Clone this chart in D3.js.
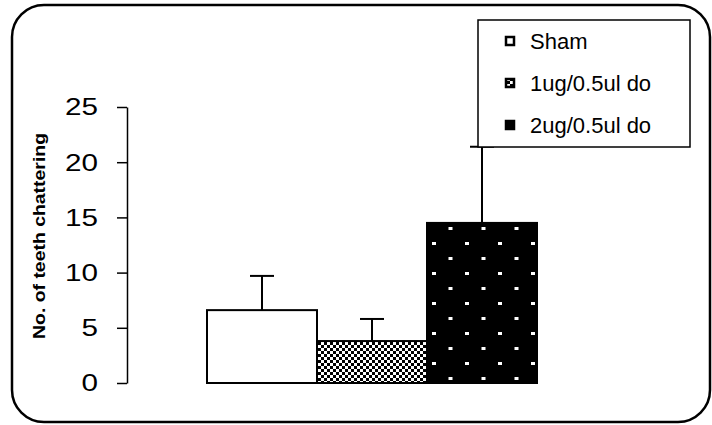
<!DOCTYPE html>
<html><head><meta charset="utf-8">
<script src="https://cdn.jsdelivr.net/npm/d3@7"></script>
<style>body{margin:0;background:#fff}svg{display:block}text{font-family:"Liberation Sans",Arial,sans-serif}</style>
</head><body>
<svg id="c" width="712" height="425"></svg>
<script>
const categories = ["Sham", "1ug/0.5ul do", "2ug/0.5ul do"];
const means = [6.6, 3.8, 14.5];
const errors = [3.1, 2.0, 6.9];
const yTicks = [0, 5, 10, 15, 20, 25];
const yTitle = "No. of teeth chattering";

const svg = d3.select("#c");
const defs = svg.append("defs");

// checker pattern
const chk = defs.append("pattern").attr("id","chk").attr("patternUnits","userSpaceOnUse")
  .attr("width",6).attr("height",6);
chk.append("rect").attr("width",6).attr("height",6).attr("fill","#fff");
chk.append("rect").attr("width",3).attr("height",3).attr("fill","#000");
chk.append("rect").attr("x",3).attr("y",3).attr("width",3).attr("height",3).attr("fill","#000");

// dotted black pattern
const dot = defs.append("pattern").attr("id","dot").attr("patternUnits","userSpaceOnUse")
  .attr("width",33).attr("height",30).attr("x",0).attr("y",0);
dot.append("rect").attr("width",33).attr("height",30).attr("fill","#000");
dot.append("rect").attr("x",3).attr("y",2).attr("width",4).attr("height",3).attr("fill","#fff");
dot.append("rect").attr("x",19.5).attr("y",17).attr("width",4).attr("height",3).attr("fill","#fff");

const fills = ["#fff", "url(#chk)", "url(#dot)"];

// outer border
svg.append("rect").attr("x",12).attr("y",5).attr("width",698).attr("height",417)
  .attr("rx",32).attr("ry",32).attr("fill","none").attr("stroke","#000").attr("stroke-width",2.5);

const y = d3.scaleLinear().domain([0,25]).range([383,107]);
const x = d3.scaleBand().domain(categories).range([207,537]).padding(0);

// axis
const axis = d3.axisLeft(y).tickValues(yTicks).tickSize(10).tickSizeOuter(0).tickPadding(19);
const ag = svg.append("g").attr("transform","translate(127,0)").call(axis);
ag.select(".domain").attr("stroke","#000").attr("stroke-width",1.5);
ag.selectAll(".tick line").attr("stroke","#000").attr("stroke-width",1.5);
ag.selectAll(".tick text").attr("font-size",24).attr("fill","#000")
  .attr("font-family","Liberation Sans, Arial, sans-serif")
  .attr("dy","0.33em")
  .attr("textLength",d=>String(d).length*16.5).attr("lengthAdjust","spacingAndGlyphs");

// y title
svg.append("text").attr("transform","translate(45,236) rotate(-90)")
  .attr("text-anchor","middle").attr("font-size",17).attr("font-weight","bold")
  .attr("textLength",206).attr("lengthAdjust","spacingAndGlyphs")
  .text(yTitle);

// error bars (behind bars)
const eg = svg.append("g");
categories.forEach((c,i)=>{
  const cx = x(c)+x.bandwidth()/2;
  eg.append("line").attr("x1",cx).attr("x2",cx).attr("y1",y(means[i])).attr("y2",y(means[i]+errors[i]))
    .attr("stroke","#000").attr("stroke-width",2);
  eg.append("line").attr("x1",cx-12).attr("x2",cx+12).attr("y1",y(means[i]+errors[i])).attr("y2",y(means[i]+errors[i]))
    .attr("stroke","#000").attr("stroke-width",2);
});

// bars
svg.append("g").selectAll("rect").data(categories).join("rect")
  .attr("x",d=>x(d)).attr("width",x.bandwidth())
  .attr("y",(d,i)=>y(means[i])).attr("height",(d,i)=>y(0)-y(means[i]))
  .attr("fill",(d,i)=>fills[i]).attr("stroke","#000").attr("stroke-width",2);

// legend
const lg = svg.append("g");
lg.append("rect").attr("x",478).attr("y",20).attr("width",212).attr("height",127)
  .attr("fill","#fff").attr("stroke","#000").attr("stroke-width",1.5);
const legY = [49, 91, 133];
categories.forEach((c,i)=>{
  lg.append("rect").attr("x",506).attr("y",legY[i]-12).attr("width",8).attr("height",8)
    .attr("fill",i===2?"#000":fills[i]).attr("stroke","#000").attr("stroke-width",2.5);
  lg.append("text").attr("x",530).attr("y",legY[i]).attr("font-size",22).attr("fill","#000").text(c);
});
</script>
</body></html>
